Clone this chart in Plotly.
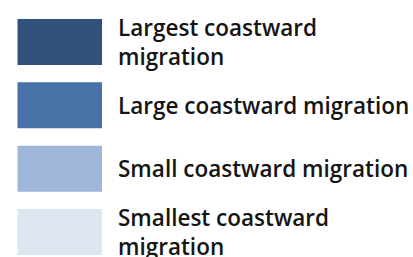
import plotly.graph_objects as go

categories = ["Largest coastward<br>migration", "Large coastward migration",
              "Small coastward migration", "Smallest coastward<br>migration"]
values = [1, 1, 1, 1]
colors = ["#30527a", "#4872a8", "#9db6da", "#dde5f0"]

rows = list(range(len(categories)))

fig = go.Figure()
fig.add_trace(go.Bar(
    x=values, y=rows, orientation="h", width=0.726,
    marker=dict(color=colors, line=dict(width=0)),
    hoverinfo="skip", showlegend=False,
))

for r, label in zip(rows, categories):
    fig.add_annotation(
        x=1.166, y=r, xref="x", yref="y", text=label, showarrow=False,
        xanchor="left", yanchor="middle", align="left",
        font=dict(family="Open Sans", size=22.5, color="#151515", weight=600),
    )

fig.update_layout(
    width=413, height=257,
    margin=dict(l=0, r=0, t=0, b=0),
    paper_bgcolor="white", plot_bgcolor="white",
    xaxis=dict(range=[-0.207, 4.68], visible=False, fixedrange=True),
    yaxis=dict(range=[3.395, -0.663], visible=False, fixedrange=True),
)

fig.write_html("out.html", config={"displayModeBar": False},
               post_script="document.body.style.margin='0';document.body.style.overflow='hidden';")
